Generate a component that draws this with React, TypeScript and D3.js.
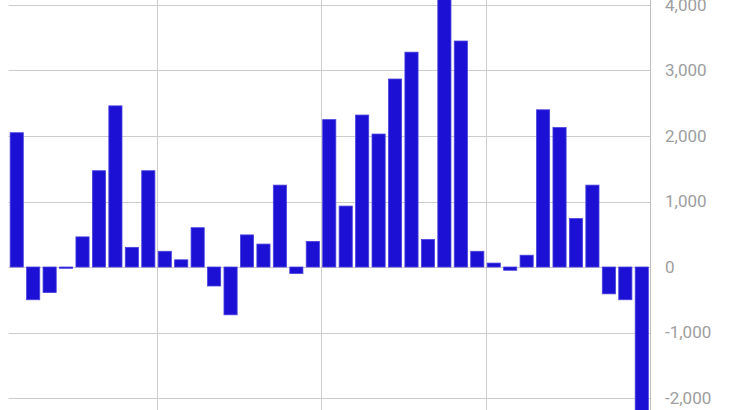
import React, { useEffect, useRef } from 'react';
import * as d3 from 'd3';

// values, left to right
const values: number[] = [
  2050, -500, -390, -20, 460, 1470, 2460, 300, 1470, 240,
  110, 600, -290, -730, 490, 350, 1250, -100, 390, 2250,
  930, 2320, 2030, 2870, 3280, 420, 4300, 3450, 240, 60,
  -50, 180, 2400, 2130, 740, 1250, -410, -500, -2500,
];
const yTicks: number[] = [4000, 3000, 2000, 1000, 0, -1000, -2000];
// vertical grid lines sit before these bar indices
const xGridAt: number[] = [9, 19, 29];

const W = 730;
const H = 410;

export default function App() {
  const svgRef = useRef<SVGSVGElement>(null);

  useEffect(() => {
    if (!svgRef.current) return;
    const svg = d3.select(svgRef.current);
    svg.selectAll('*').remove();

    const left = 8.5;
    const right = 650;

    const x = d3.scaleBand<number>()
      .domain(values.map((_, i) => i))
      .range([left, right])
      .paddingInner(0.2)
      .paddingOuter(0.1);

    const y = d3.scaleLinear().domain([-2000, 4000]).range([398, 5]);
    const step = x.step();

    // horizontal grid
    svg.append('g')
      .selectAll('line')
      .data(yTicks)
      .join('line')
      .attr('x1', left)
      .attr('x2', right)
      .attr('y1', d => Math.round(y(d)) + 0.5)
      .attr('y2', d => Math.round(y(d)) + 0.5)
      .attr('stroke', '#cccccc')
      .attr('stroke-width', 1);

    // vertical grid
    svg.append('g')
      .selectAll('line')
      .data(xGridAt)
      .join('line')
      .attr('x1', d => Math.round(x(d)! - step * 0.1) + 0.5)
      .attr('x2', d => Math.round(x(d)! - step * 0.1) + 0.5)
      .attr('y1', 0)
      .attr('y2', H)
      .attr('stroke', '#cccccc')
      .attr('stroke-width', 1);

    // bars
    svg.append('g')
      .selectAll('rect')
      .data(values)
      .join('rect')
      .attr('x', (_, i) => x(i)!)
      .attr('width', x.bandwidth())
      .attr('y', d => y(Math.max(0, d)))
      .attr('height', d => Math.abs(y(d) - y(0)))
      .attr('fill', '#1b10d3')
      .attr('stroke', '#4a42de')
      .attr('stroke-width', 0.8);

    // right axis line
    svg.append('line')
      .attr('x1', Math.round(right) + 0.5)
      .attr('x2', Math.round(right) + 0.5)
      .attr('y1', 0)
      .attr('y2', H)
      .attr('stroke', '#bdbdbd')
      .attr('stroke-width', 1);

    // tick labels
    const fmt = d3.format(',');
    svg.append('g')
      .selectAll('text')
      .data(yTicks)
      .join('text')
      .attr('x', 665)
      .attr('y', d => y(d))
      .attr('dy', '0.35em')
      .attr('fill', '#9e9e9e')
      .style('font-family', 'Roboto, "Liberation Sans", Arial, sans-serif')
      .style('font-size', '17px')
      .text(d => fmt(d).replace('−', '-'));
  }, []);

  return (
    <svg
      ref={svgRef}
      width={W}
      height={H}
      style={{ position: 'absolute', left: 0, top: 0, background: '#fff' }}
    />
  );
}
